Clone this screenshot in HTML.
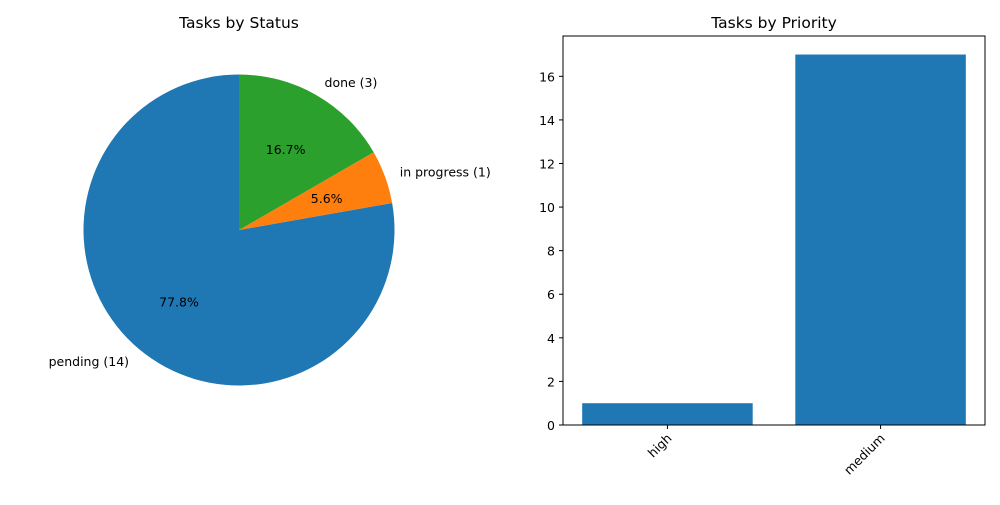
<!DOCTYPE html>
<html><head><meta charset="utf-8"><style>
body{margin:0;background:#fff;font-family:"Liberation Sans","DejaVu Sans",sans-serif}
svg text{font-family:"DejaVu Sans","Liberation Sans",sans-serif}
</style></head><body>
<svg id="c" width="1000" height="500" xmlns="http://www.w3.org/2000/svg">
<rect width="1000" height="500" fill="#fff"/>
<text x="239" y="28" font-size="15.5" text-anchor="middle">Tasks by Status</text>
<text x="774" y="28" font-size="15.5" text-anchor="middle">Tasks by Priority</text>
<g id="pie"></g>
<g id="bars"></g>
</svg>
<script>
const statusLabels=["pending","in progress","done"];
const statusCounts=[14,1,3];
const priorityLabels=["high","medium"];
const priorityCounts=[1,17];
const yTicks=[0,2,4,6,8,10,12,14,16];

const NS="http://www.w3.org/2000/svg";
function mk(t,a,p){const e=document.createElementNS(NS,t);for(const k in a)e.setAttribute(k,a[k]);p.appendChild(e);return e;}
const colors=["#1f77b4","#ff7f0e","#2ca02c"];
const pie=document.getElementById('pie');
const cx=239,cy=230,R=155.5;
const total=statusCounts.reduce((a,b)=>a+b,0);
let ang=90;
statusCounts.forEach((v,i)=>{
  const sweep=v/total*360,a0=ang,a1=ang+sweep;
  const r0=a0*Math.PI/180,r1=a1*Math.PI/180;
  const x0=cx+R*Math.cos(r0),y0=cy-R*Math.sin(r0),x1=cx+R*Math.cos(r1),y1=cy-R*Math.sin(r1);
  const p=mk('path',{d:`M${cx},${cy}L${x0},${y0}A${R},${R} 0 ${sweep>180?1:0} 0 ${x1},${y1}Z`,fill:colors[i]},pie);
  
  
  const m=(a0+a1)/2*Math.PI/180;
  const lx=cx+1.1*R*Math.cos(m),ly=cy-1.1*R*Math.sin(m);
  const t=mk('text',{x:lx,y:ly+5,'font-size':12.5,'text-anchor':Math.cos(m)>=0?'start':'end'},pie);
  t.textContent=statusLabels[i]+' ('+v+')';
  
  
  const px=cx+0.6*R*Math.cos(m),py=cy-0.6*R*Math.sin(m);
  const pt=mk('text',{x:px,y:py+5,'font-size':12.5,'text-anchor':'middle'},pie);
  pt.textContent=(v/total*100).toFixed(1)+'%';
  
  
  ang=a1;
});
const g=document.getElementById('bars');
const L=563,Rr=985,T=36,B=425,ymax=17.85,xmin=-0.49,xmax=1.49;
const X=v=>L+(v-xmin)/(xmax-xmin)*(Rr-L);
const Y=v=>B-v/ymax*(B-T);
priorityCounts.forEach((v,i)=>{
  const r=mk('rect',{x:X(i-0.4),y:Y(v),width:X(i+0.4)-X(i-0.4),height:B-Y(v),fill:'#1f77b4'},g);
  
  
  mk('line',{x1:X(i),x2:X(i),y1:B,y2:B+4,stroke:'#000'},g);
  const t=mk('text',{x:0,y:0,'font-size':12.5,'text-anchor':'end',transform:`translate(${X(i)+5},${B+14}) rotate(-45)`},g);
  t.textContent=priorityLabels[i];
  
  
});
yTicks.forEach(v=>{
  mk('line',{x1:L-4,x2:L,y1:Y(v),y2:Y(v),stroke:'#000'},g);
  const t=mk('text',{x:L-8,y:Y(v)+5,'font-size':12.5,'text-anchor':'end'},g);
  t.textContent=v;
  
  
});
const f=mk('rect',{x:L,y:T,width:Rr-L,height:B-T,fill:'none',stroke:'#000','stroke-width':1},g);


</script>
</body></html>
